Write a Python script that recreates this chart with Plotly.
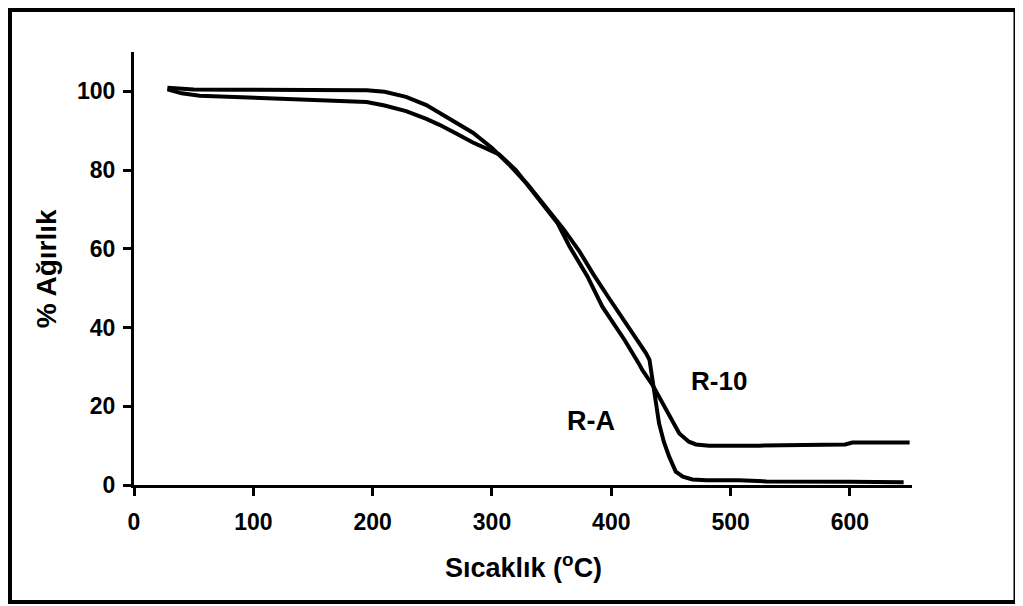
import plotly.graph_objects as go

# Temperature (°C) and % weight for each sample
ra_temp = [28, 35, 50, 80, 120, 172, 195, 210, 228, 245, 256, 270, 284, 300, 315,
           330, 345, 360, 373, 385, 398, 411, 422, 429, 432, 434, 436, 440, 444,
           448.5, 454, 460, 468, 480, 507, 530, 600, 645]
ra_weight = [100.9, 100.7, 100.5, 100.4, 100.4, 100.4, 100.3, 99.9, 98.6, 96.5, 94.6,
             92.2, 89.5, 85.6, 81.2, 76.3, 70.8, 65.0, 59.5, 53.5, 47.5, 41.8, 37.0,
             33.5, 31.8, 28.0, 23.3, 15.7, 11.0, 7.2, 3.4, 2.1, 1.4, 1.2, 1.2, 0.9,
             0.8, 0.7]

r10_temp = [28, 40, 55, 111, 161, 195, 210, 228, 245, 256, 270, 284, 295, 306, 320,
            340, 355, 365, 380, 392.5, 411, 423, 426, 434.6, 445.8, 457, 465, 471,
            482, 524, 596, 602, 650]
r10_weight = [100.5, 99.5, 98.9, 98.3, 97.7, 97.3, 96.4, 95.0, 93.0, 91.5, 89.3, 87.0,
              85.5, 84.0, 80.0, 72.5, 66.5, 60.6, 53.0, 45.3, 36.9, 30.9, 29.2, 25.4,
              19.1, 13.1, 11.0, 10.3, 10.0, 10.0, 10.3, 10.8, 10.8]

x_ticks = [0, 100, 200, 300, 400, 500, 600]
y_ticks = [0, 20, 40, 60, 80, 100]

labels = ["R-10", "R-A"]
label_x = [490, 383]
label_y = [26.5, 16.3]

FONT = "Liberation Sans, Arial, sans-serif"

fig = go.Figure()
fig.add_trace(go.Scatter(x=ra_temp, y=ra_weight, mode="lines", name="R-A",
                         line=dict(color="black", width=4), showlegend=False))
fig.add_trace(go.Scatter(x=r10_temp, y=r10_weight, mode="lines", name="R-10",
                         line=dict(color="black", width=4), showlegend=False))

for t, lx, ly, fs in zip(labels, label_x, label_y, [26, 27]):
    fig.add_annotation(x=lx, y=ly, xref="x", yref="y", text=t, showarrow=False,
                       font=dict(family=FONT, size=fs, color="black", weight="bold"))

# axis titles
fig.add_annotation(x=0.5, y=-0.186, xref="paper", yref="paper",
                   text="Sıcaklık (<sup>o</sup>C)", showarrow=False,
                   xanchor="center", yanchor="middle",
                   font=dict(family=FONT, size=27, color="black", weight="bold"))
fig.add_annotation(x=-0.1123, y=0.5, xref="paper", yref="paper",
                   text="% Ağırlık", showarrow=False, textangle=-90,
                   xanchor="center", yanchor="middle",
                   font=dict(family=FONT, size=28, color="black", weight="bold"))

# outer frame
fig.add_shape(type="rect", xref="paper", yref="paper",
              x0=-0.15938, x1=1.13303, y0=-0.27021, y1=1.09700,
              line=dict(color="black", width=4), fillcolor="rgba(0,0,0,0)")

# the page body adds an 8 px offset, so the figure is 8 px smaller on each side
fig.update_layout(
    width=1015, height=598,
    margin=dict(l=126, r=111, t=44, b=121),
    paper_bgcolor="white", plot_bgcolor="white",
    font=dict(family=FONT, color="black"),
)
fig.update_xaxes(range=[0, 652], tickvals=x_ticks, showgrid=False, zeroline=False,
                 showline=True, linecolor="black", linewidth=3,
                 ticks="outside", ticklen=8, tickwidth=3, tickcolor="black",
                 ticklabelstandoff=6,
                 tickfont=dict(family=FONT, size=23, color="black", weight="bold"))
fig.update_yaxes(range=[0, 110], tickvals=y_ticks, showgrid=False, zeroline=False,
                 showline=True, linecolor="black", linewidth=3,
                 ticks="outside", ticklen=8, tickwidth=3, tickcolor="black",
                 ticklabelstandoff=3,
                 tickfont=dict(family=FONT, size=23, color="black", weight="bold"))

fig.write_html("out.html")
